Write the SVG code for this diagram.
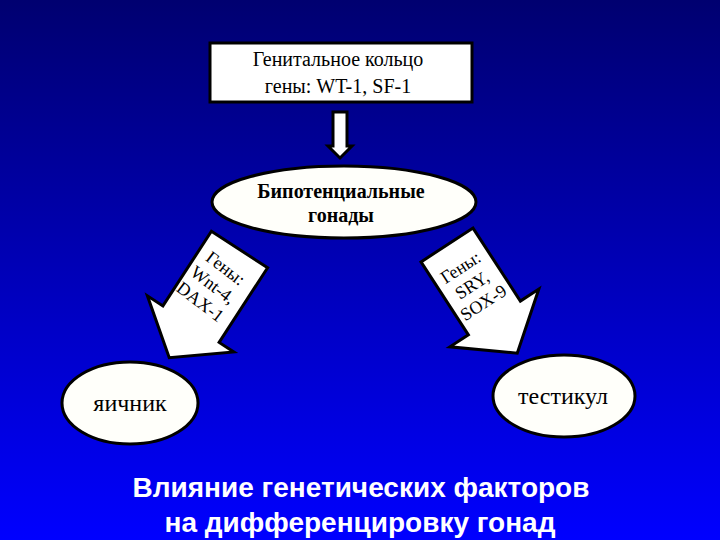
<svg xmlns="http://www.w3.org/2000/svg" width="720" height="540" viewBox="0 0 720 540">
<defs>
<linearGradient id="bg" x1="0" y1="0" x2="0" y2="1">
<stop offset="0" stop-color="#000070"/>
<stop offset="1" stop-color="#0000ff"/>
</linearGradient>
<style>
.shape{fill:#ffffff;stroke:#000000;stroke-width:3;stroke-linejoin:miter}
.oval{fill:#fffffa;stroke:#000000;stroke-width:3}
.t{font-family:"Liberation Serif","Times New Roman",serif;fill:#000000;text-anchor:middle}
.title{font-family:"Liberation Sans",Arial,sans-serif;font-weight:bold;fill:#ffffff;text-anchor:middle;font-size:28px}
</style>
</defs>
<rect x="0" y="0" width="720" height="540" fill="url(#bg)"/>

<g id="connectors">
<g id="arrow-down">
<polygon class="shape" points="333,112 347,112 347,146 352,146 340,158 328,146 333,146" stroke-width="2.5"/>
</g>
<g id="arrow-left" transform="translate(239.5,249.5) rotate(33)">
<polygon class="shape" points="-33.5,0 33.5,0 33.5,89 51,89 0,129 -52,89 -33.5,89"/>
</g>
<g id="arrow-right" transform="translate(447,245) rotate(-33)">
<polygon class="shape" points="-31,0 31,0 31,87 53,87 0,129 -53,87 -31,87"/>
</g>
<g id="label-left" transform="translate(213,285) rotate(37)">
<text class="t" font-size="18" x="0" y="-15">Гены:</text>
<text class="t" font-size="18" x="0" y="6">Wnt-4,</text>
<text class="t" font-size="18" x="0" y="27">DAX-1</text>
</g>
<g id="label-right" transform="translate(472,285) rotate(-33)">
<text class="t" font-size="18" x="0" y="-15">Гены:</text>
<text class="t" font-size="18" x="0" y="6">SRY,</text>
<text class="t" font-size="18" x="0" y="27">SOX-9</text>
</g>
</g>

<g id="node-ring">
<rect class="shape" x="210" y="43" width="262" height="59"/>
<text class="t" font-size="20" x="338" y="66">Генитальное кольцо</text>
<text class="t" font-size="20" x="338" y="93">гены: WT-1, SF-1</text>
</g>

<g id="node-bipotential">
<ellipse class="oval" cx="344" cy="202" rx="132" ry="36"/>
<text class="t" font-size="20" font-weight="bold" x="341" y="198">Бипотенциальные</text>
<text class="t" font-size="20" font-weight="bold" x="341" y="222">гонады</text>
</g>

<g id="node-ovary">
<ellipse class="oval" cx="130" cy="403" rx="68" ry="41"/>
<text class="t" font-size="24" x="130" y="411">яичник</text>
</g>

<g id="node-testis">
<ellipse class="oval" cx="564" cy="396" rx="71" ry="41"/>
<text class="t" font-size="24" x="563" y="404">тестикул</text>
</g>

<g id="title">
<text class="title" x="361" y="497">Влияние генетических факторов</text>
<text class="title" x="360" y="532">на дифференцировку гонад</text>
</g>
</svg>
